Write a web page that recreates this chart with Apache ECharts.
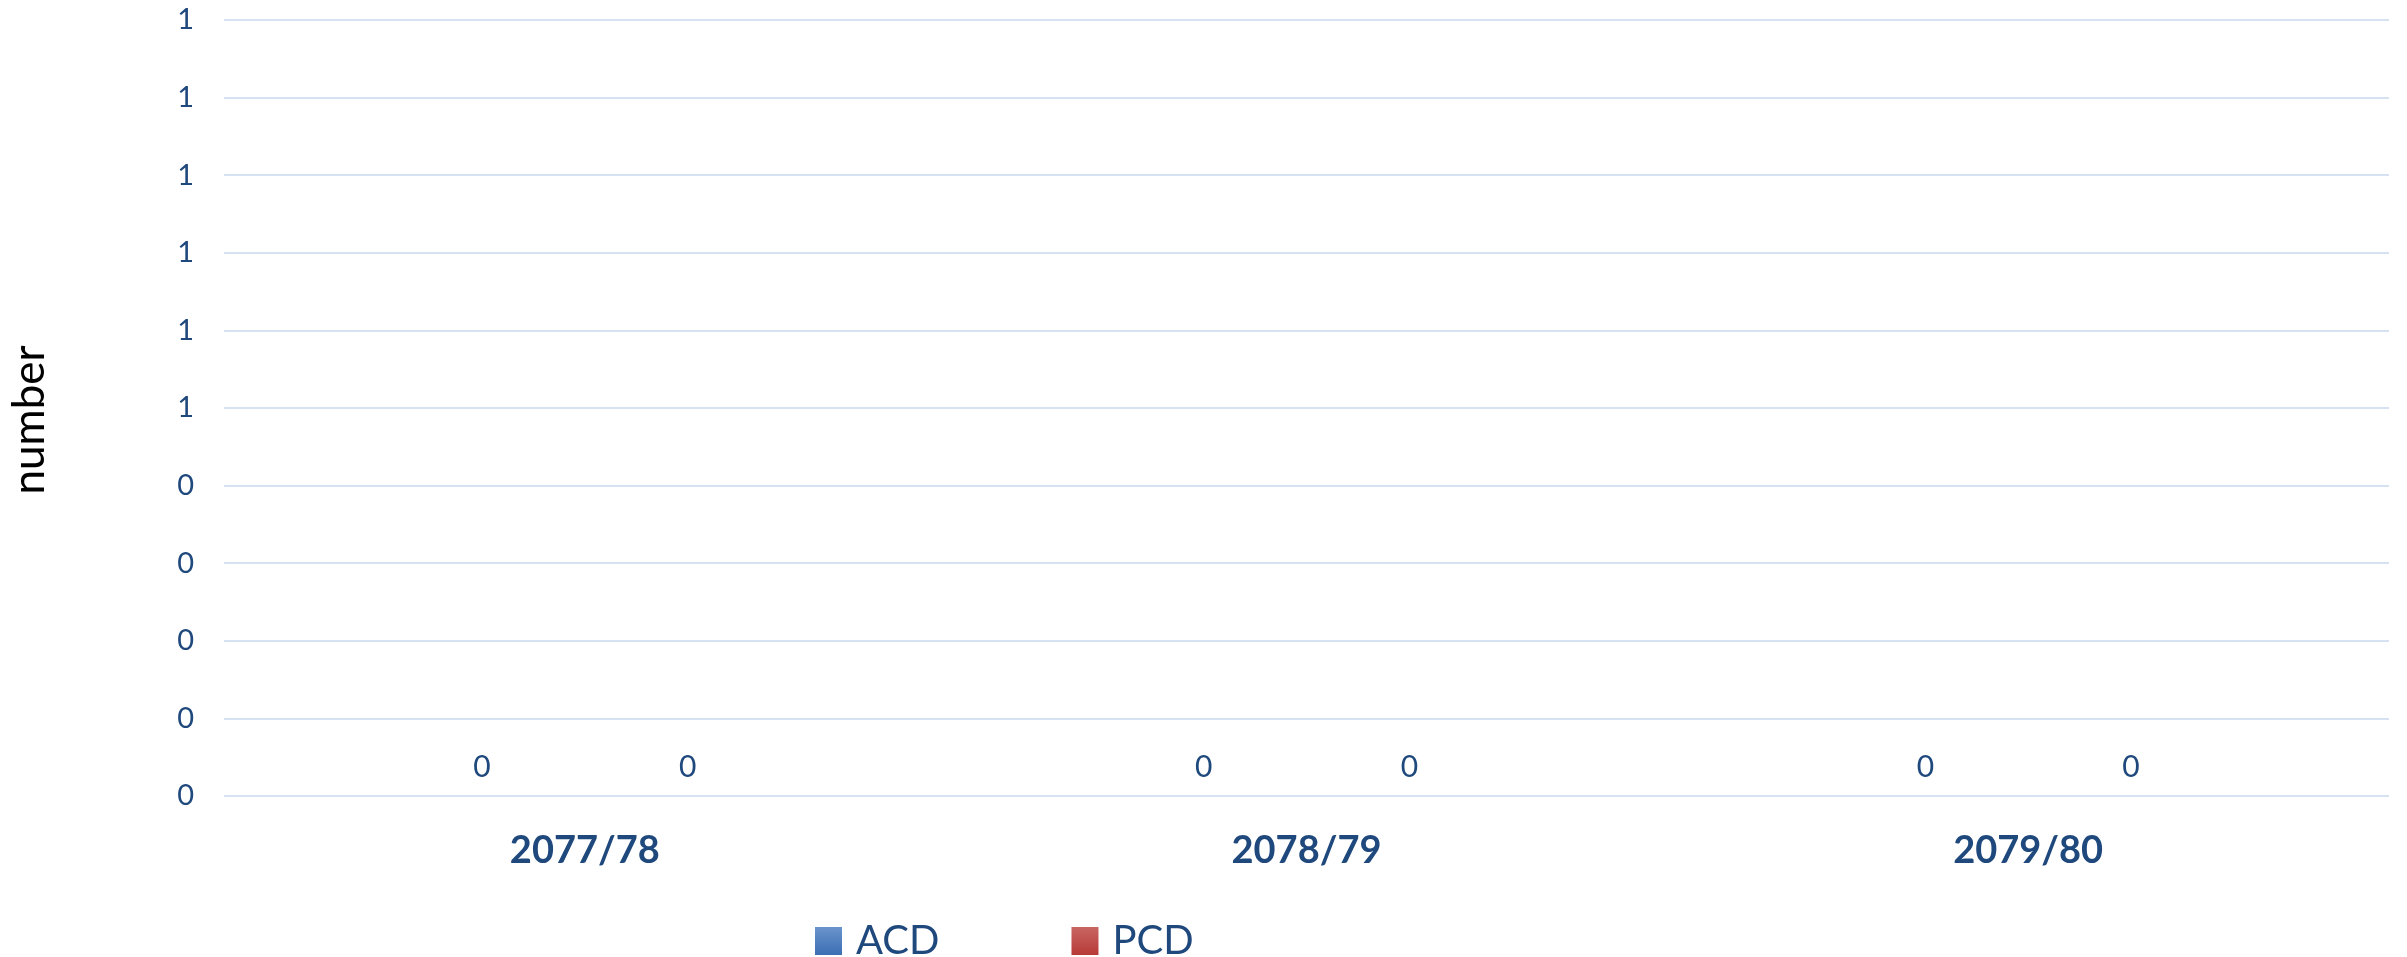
<!DOCTYPE html>
<html>
<head>
<meta charset="utf-8">
<title>ACD / PCD</title>
<script src="https://cdn.jsdelivr.net/npm/echarts@6/dist/echarts.min.js"></script>
<style>
    html, body { margin: 0; padding: 0; background: #fff; }
    #chart { width: 2407px; height: 957px; }
</style>
</head>
<body>
<div id="chart"></div>
<script>
// 数据
const years = ['2077/78', '2078/79', '2079/80'];
const acdValues = [0, 0, 0];
const pcdValues = [0, 0, 0];

const textColor = '#1F497D';
const fontName = 'Lato, "Open Sans", sans-serif';

const chart = echarts.init(document.getElementById('chart'));

const labelStyle = {
    show: true,
    position: 'top',
    distance: 14,
    color: textColor,
    fontSize: 30,
    fontFamily: fontName
};

const option = {
    animation: false,
    backgroundColor: '#fff',
    grid: {
        left: 222,
        right: 18,
        top: 20,
        bottom: 161
    },
    legend: {
        data: ['ACD', 'PCD'],
        left: 810,
        top: 916,
        icon: 'rect',
        itemWidth: 27,
        itemHeight: 28,
        itemGap: 132,
        textStyle: {
            color: textColor,
            fontSize: 40,
            fontFamily: fontName,
            padding: [0, 0, 0, 9]
        }
    },
    xAxis: {
        type: 'category',
        data: years,
        axisLine: { show: false },
        axisTick: { show: false },
        axisLabel: {
            color: textColor,
            fontSize: 38,
            fontWeight: 'bold',
            fontFamily: fontName,
            margin: 36
        }
    },
    yAxis: {
        type: 'value',
        min: 0,
        max: 1,
        interval: 0.1,
        name: 'number',
        nameLocation: 'middle',
        nameGap: 172,
        nameTextStyle: {
            color: '#000',
            fontSize: 44,
            fontFamily: fontName,
            padding: [0, 24, 0, 0]
        },
        axisLine: { show: false },
        axisTick: { show: false },
        axisLabel: {
            color: textColor,
            fontSize: 29,
            fontFamily: fontName,
            margin: 30,
            formatter: v => String(Math.round(v))
        },
        splitLine: {
            lineStyle: { color: '#D6E2F1', width: 2 }
        }
    },
    series: [
        {
            name: 'ACD',
            type: 'bar',
            data: acdValues,
            barGap: '0%',
            barCategoryGap: '43%',
            itemStyle: {
                color: new echarts.graphic.LinearGradient(0, 0, 0, 1, [
                    { offset: 0, color: '#6A94CB' },
                    { offset: 1, color: '#3C6EB4' }
                ])
            },
            label: labelStyle
        },
        {
            name: 'PCD',
            type: 'bar',
            data: pcdValues,
            itemStyle: {
                color: new echarts.graphic.LinearGradient(0, 0, 0, 1, [
                    { offset: 0, color: '#C86662' },
                    { offset: 1, color: '#B83A36' }
                ])
            },
            label: labelStyle
        }
    ]
};

chart.setOption(option);
</script>
</body>
</html>
